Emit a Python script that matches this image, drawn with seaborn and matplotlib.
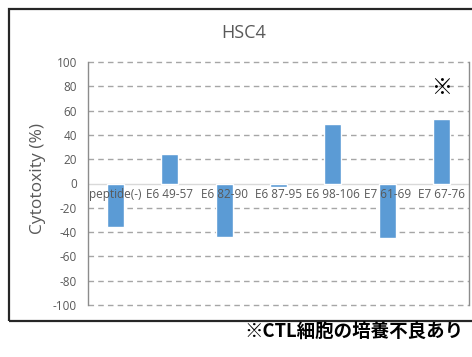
import matplotlib
matplotlib.use("Agg")
import matplotlib.pyplot as plt
import seaborn as sns
import pandas as pd
from matplotlib.patches import Rectangle

categories = ["peptide(-)", "E6 49-57", "E6 82-90", "E6 87-95", "E6 98-106", "E7 61-69", "E7 67-76"]
values = [-36, 24, -44, -3, 49, -45, 53]
yticks = [-100, -80, -60, -40, -20, 0, 20, 40, 60, 80, 100]
title = "HSC4"
ylabel = "Cytotoxity (%)"
mark = "※"
mark_y = 79
note = "※CTL細胞の培養不良あり"

sns.set_style("white")
plt.rcParams['font.family'] = ['Open Sans', 'DejaVu Sans']

df = pd.DataFrame({"cat": categories, "val": values})

W, H = 472, 357
fig = plt.figure(figsize=(W / 100, H / 100), dpi=100)
ax = fig.add_axes([88 / W, (H - 305) / H, (469 - 88) / W, (305 - 62) / H])

sns.barplot(data=df, x="cat", y="val", color="#5B9BD5", width=0.31, ax=ax,
            saturation=1, zorder=3)

ax.set_ylim(-100, 100)
ax.set_xlim(-0.5, len(categories) - 0.5)
ax.set_yticks(yticks)
ax.set_yticklabels([str(t) for t in yticks], color="#595959", fontsize=8.5)
ax.tick_params(axis="y", length=0, pad=8)
ax.tick_params(axis="x", length=0)
ax.set_xticks([])
ax.set_xlabel("")
ax.set_ylabel("")

for t in yticks:
    if t == 0:
        ax.axhline(0, color="#d9d9d9", lw=1.0, zorder=2)
    else:
        ax.axhline(t, color="#a6a6a6", lw=1.0, ls=(0, (4, 3)), zorder=1, clip_on=False)

for i, c in enumerate(categories):
    ax.text(i, -3.5, c, ha="center", va="top", fontsize=8.5, color="#595959", zorder=5)

ax.text(len(categories) - 1, mark_y, mark, ha="center", va="center", fontsize=15,
        color="black", family=['Noto Sans CJK JP', 'DejaVu Sans'], zorder=5)

for s in ["top", "bottom"]:
    ax.spines[s].set_visible(False)
for s in ["left", "right"]:
    ax.spines[s].set_visible(True)
    ax.spines[s].set_color("#8c8c8c")
    ax.spines[s].set_linewidth(1.0)

fig.text(244 / W, (H - 32.5) / H, title, ha="center", va="center", fontsize=13, color="#595959")
fig.text(37.5 / W, (H - 178.5) / H, ylabel, ha="center", va="center", rotation=90,
         fontsize=12.5, color="#595959")

frame = Rectangle((8.5 / W, (H - 321) / H), 2.0, (321 - 9) / H, transform=fig.transFigure,
                  fill=False, edgecolor="#262626", lw=1.6, clip_on=False)
fig.patches.append(frame)

fig.text(244 / W, (H - 331.5) / H, note, ha="left", va="center", fontsize=13.3,
         fontweight="bold", color="black", family=['Noto Sans CJK JP', 'DejaVu Sans'])

fig.savefig("out.png", dpi=100, facecolor="white")
